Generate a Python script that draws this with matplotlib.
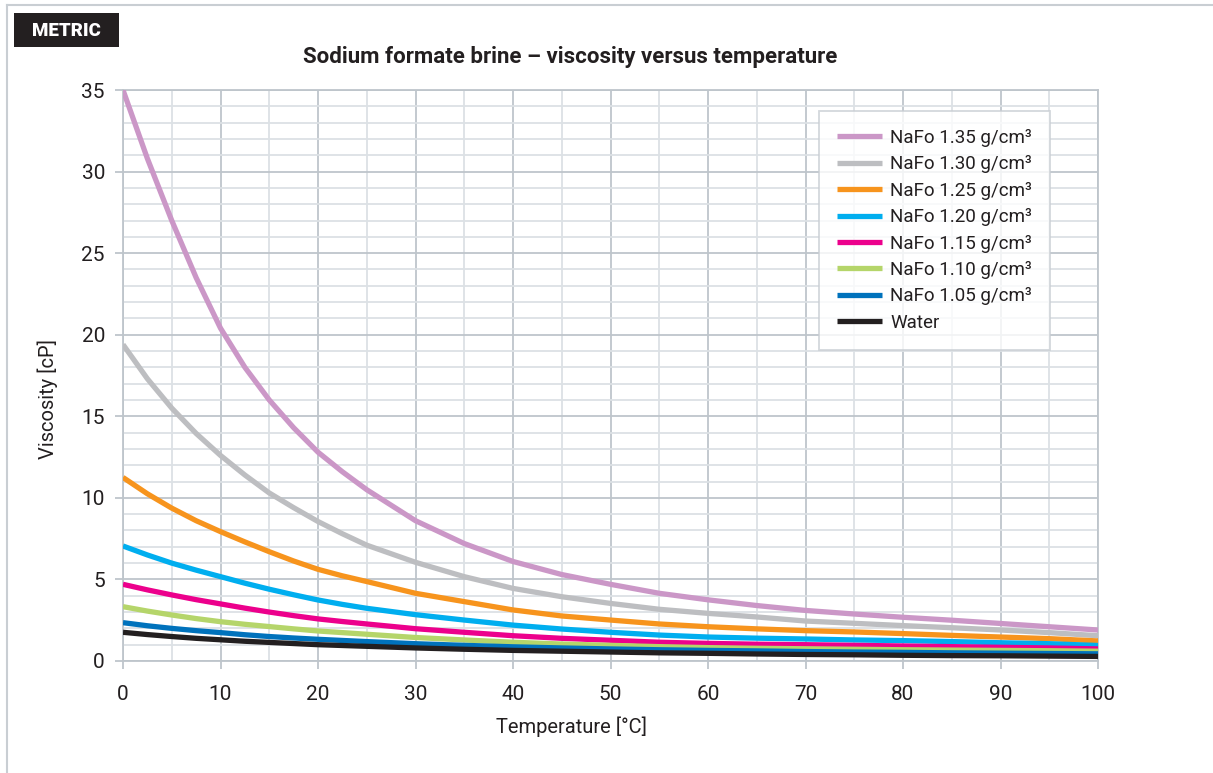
import matplotlib.pyplot as plt
from matplotlib.patches import Rectangle
from matplotlib.lines import Line2D

plt.rcParams['font.family'] = ['Roboto', 'DejaVu Sans']

# temperature [degC] and viscosity [cP]
temp = [0, 2.5, 5, 7.5, 10, 12.5, 15, 17.5, 20, 22.5, 25, 30, 35, 40, 45, 50, 55, 60, 65, 70, 75, 80, 85, 90, 95, 100]
nafo_135 = [35.0, 30.8, 27.0, 23.5, 20.4, 18.0, 16.0, 14.3, 12.8, 11.6, 10.5, 8.6, 7.2, 6.1, 5.3, 4.7, 4.15, 3.75, 3.4, 3.1, 2.88, 2.68, 2.5, 2.3, 2.1, 1.9]
nafo_130 = [19.4, 17.3, 15.5, 13.95, 12.6, 11.4, 10.3, 9.4, 8.55, 7.8, 7.1, 6.05, 5.17, 4.45, 3.94, 3.53, 3.17, 2.92, 2.7, 2.45, 2.31, 2.17, 2.04, 1.9, 1.74, 1.55]
nafo_125 = [11.25, 10.25, 9.37, 8.6, 7.93, 7.3, 6.7, 6.13, 5.62, 5.22, 4.87, 4.15, 3.64, 3.13, 2.76, 2.51, 2.27, 2.1, 1.97, 1.86, 1.78, 1.68, 1.57, 1.47, 1.37, 1.23]
nafo_120 = [7.05, 6.5, 6.0, 5.57, 5.17, 4.77, 4.4, 4.06, 3.74, 3.47, 3.23, 2.84, 2.51, 2.2, 1.96, 1.76, 1.59, 1.47, 1.4, 1.35, 1.29, 1.25, 1.19, 1.12, 1.06, 0.95]
nafo_115 = [4.7, 4.36, 4.05, 3.76, 3.5, 3.24, 3.0, 2.78, 2.58, 2.42, 2.27, 1.98, 1.76, 1.55, 1.39, 1.27, 1.15, 1.08, 1.03, 1.0, 0.96, 0.92, 0.88, 0.84, 0.8, 0.74]
nafo_110 = [3.33, 3.06, 2.82, 2.6, 2.41, 2.25, 2.11, 1.97, 1.84, 1.74, 1.64, 1.44, 1.29, 1.15, 1.04, 0.96, 0.88, 0.82, 0.78, 0.75, 0.72, 0.69, 0.67, 0.65, 0.63, 0.6]
nafo_105 = [2.35, 2.16, 2.0, 1.86, 1.74, 1.61, 1.5, 1.41, 1.33, 1.26, 1.19, 1.06, 0.96, 0.87, 0.8, 0.74, 0.69, 0.65, 0.62, 0.58, 0.55, 0.53, 0.5, 0.48, 0.46, 0.44]
water = [1.76, 1.62, 1.5, 1.39, 1.3, 1.21, 1.14, 1.07, 1.0, 0.95, 0.9, 0.8, 0.72, 0.65, 0.6, 0.55, 0.5, 0.47, 0.43, 0.4, 0.38, 0.35, 0.33, 0.32, 0.3, 0.28]

labels = ['NaFo 1.35 g/cm³', 'NaFo 1.30 g/cm³', 'NaFo 1.25 g/cm³', 'NaFo 1.20 g/cm³',
          'NaFo 1.15 g/cm³', 'NaFo 1.10 g/cm³', 'NaFo 1.05 g/cm³', 'Water']
series = [nafo_135, nafo_130, nafo_125, nafo_120, nafo_115, nafo_110, nafo_105, water]
colors = ['#CB97C7', '#BDBEC1', '#F7941D', '#00AEEF', '#EC008C', '#B5D56A', '#0072BC', '#231F20']

major_c = '#BEC5CB'
minor_c = '#DCE1E5'
text_c = '#231F20'

fig = plt.figure(figsize=(12.13, 7.73), dpi=100)
ax = fig.add_axes([123 / 1213, 1 - 661 / 773, 975 / 1213, 571 / 773])

# frame lines of the page
fig.add_artist(Line2D([7 / 1213, 1], [1 - 5 / 773, 1 - 5 / 773], color='#C9CED3', lw=1.5))
fig.add_artist(Line2D([7 / 1213, 7 / 1213], [0, 1 - 5 / 773], color='#C9CED3', lw=1.5))

# METRIC badge
fig.add_artist(Rectangle((14 / 1213, 1 - 47 / 773), 105 / 1213, 34 / 773,
                         transform=fig.transFigure, facecolor='#231F20', edgecolor='none'))
fig.text(66 / 1213, 1 - 31 / 773, 'METRIC', color='white', fontsize=13.5, fontweight='heavy',
         ha='center', va='center')

fig.text(570 / 1213, 1 - 57 / 773, 'Sodium formate brine – viscosity versus temperature',
         fontsize=16, fontweight='bold', ha='center', va='center', color=text_c)

for vals, lab, col in zip(series, labels, colors):
    ax.plot(temp, vals, color=col, lw=3.8, label=lab, solid_capstyle='butt',
            solid_joinstyle='round', zorder=3)

ax.set_xlim(0, 100)
ax.set_ylim(0, 35)
ax.set_xticks(range(0, 101, 10))
ax.set_xticks(range(0, 101, 5), minor=True)
ax.set_yticks(range(0, 36, 5))
ax.set_yticks(range(0, 36, 1), minor=True)
ax.grid(which='major', color=major_c, lw=1.3, zorder=0)
ax.grid(which='minor', color=minor_c, lw=1.3, zorder=0)
ax.set_axisbelow(True)
for s in ax.spines.values():
    s.set_color(major_c)
    s.set_linewidth(1.3)
ax.tick_params(which='major', length=6, width=1.3, color=major_c, labelsize=15,
               labelcolor=text_c, pad=7)
ax.tick_params(which='minor', length=0)
ax.tick_params(axis='x', pad=11)

ax.set_xlabel('Temperature [°C]', fontsize=14.5, color=text_c)
ax.set_ylabel('Viscosity [cP]', fontsize=14.5, color=text_c)
ax.xaxis.set_label_coords((572 - 123) / 975, -(727 - 661) / 571)
ax.yaxis.set_label_coords(-(123 - 48) / 975, (661 - 399) / 571)
ax.xaxis.label.set_va('center')
ax.yaxis.label.set_va('center')

leg = ax.legend(loc='upper right', bbox_to_anchor=(1050 / 1213, 1 - 111 / 773),
                bbox_transform=fig.transFigure, fontsize=13.5, frameon=True, fancybox=False,
                handlelength=2.4, handletextpad=0.45, borderpad=0.95, labelspacing=0.45,
                borderaxespad=0)
leg.get_frame().set_edgecolor('#C9CED3')
leg.get_frame().set_linewidth(1.3)
for t in leg.get_texts():
    t.set_color(text_c)

fig.savefig('out.png', dpi=100)
